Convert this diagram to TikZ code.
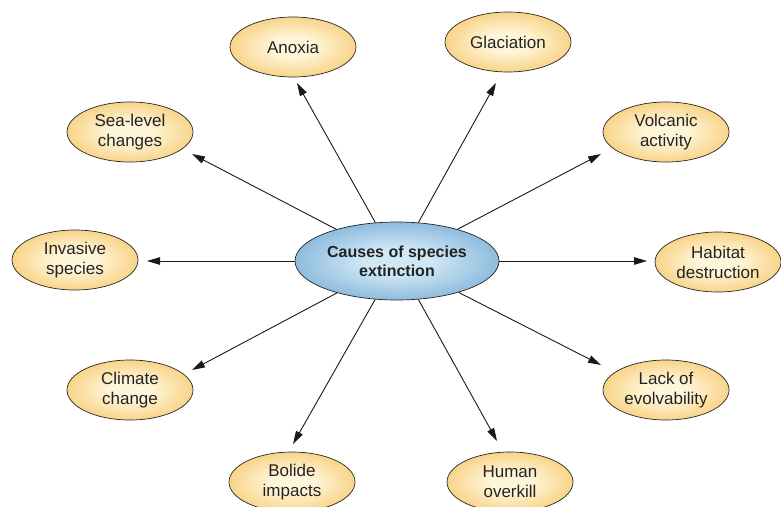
\documentclass[tikz,border=0pt]{standalone}
\usepackage{fontspec}
\setmainfont{Liberation Sans}
\usetikzlibrary{shapes.geometric,arrows.meta}
\definecolor{oin}{RGB}{255,246,218}
\definecolor{oout}{RGB}{242,182,66}
\definecolor{bin}{RGB}{208,232,246}
\definecolor{bout}{RGB}{70,138,194}
\definecolor{txt}{RGB}{35,35,35}
\pgfdeclareradialshading{orangeball}{\pgfpoint{0bp}{0bp}}{color(0bp)=(oin); color(8bp)=(oin); color(40bp)=(oout); color(50bp)=(oout)}
\pgfdeclareradialshading{blueball}{\pgfpoint{0bp}{0bp}}{color(0bp)=(bin); color(8bp)=(bin); color(44bp)=(bout); color(50bp)=(bout)}
\tikzset{
  cause/.style={ellipse, draw=black!85, line width=0.7pt, shading=orangeball,
    minimum width=126pt, minimum height=60pt, inner sep=0pt, align=center,
    text=txt, font=\fontsize{17pt}{20pt}\selectfont},
  hub/.style={ellipse, draw=black!85, line width=0.7pt, shading=blueball,
    minimum width=204pt, minimum height=78pt, inner sep=0pt, align=center,
    text=txt, font=\fontsize{16pt}{19pt}\selectfont\bfseries},
  link/.style={draw=black!90, line width=0.9pt, -{Triangle[length=13pt,width=7.5pt]}}
}
\begin{document}
\begin{tikzpicture}[x=1pt,y=-1pt]
\useasboundingbox (0,0) rectangle (781,506);
\node[hub] (c) at (397,261) {Causes of species\\extinction};
\node[cause] (anoxia) at (293,47) {Anoxia};
\node[cause] (glac) at (508,42) {Glaciation};
\node[cause] (volc) at (666,132) {Volcanic\\activity};
\node[cause] (hab) at (718,262) {Habitat\\destruction};
\node[cause] (lack) at (666,390) {Lack of\\evolvability};
\node[cause] (human) at (510,482) {Human\\overkill};
\node[cause] (bolide) at (292,482) {Bolide\\impacts};
\node[cause] (climate) at (130,390) {Climate\\change};
\node[cause] (inv) at (75,260) {Invasive\\species};
\node[cause] (sea) at (130,132) {Sea-level\\changes};
% arrow tips, just short of each cause
\coordinate (t-anoxia) at (297,83);
\coordinate (t-glac) at (496,83);
\coordinate (t-volc) at (601,154);
\coordinate (t-hab) at (647,261);
\coordinate (t-lack) at (601,365);
\coordinate (t-human) at (497,441);
\coordinate (t-bolide) at (293,444);
\coordinate (t-climate) at (192,370);
\coordinate (t-inv) at (147,261);
\coordinate (t-sea) at (192,154);
\foreach \t in {anoxia,glac,volc,hab,lack,human,bolide,climate,inv,sea}
  \draw[link] (c) -- (t-\t);
\end{tikzpicture}
\end{document}
